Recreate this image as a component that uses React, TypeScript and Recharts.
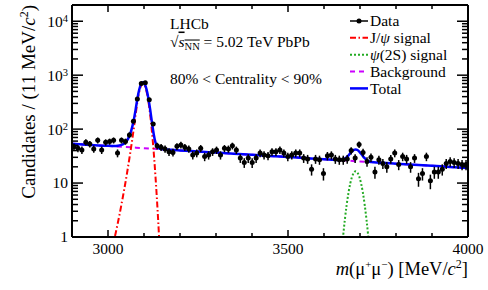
import React from 'react';
import { ComposedChart, Line, Scatter, XAxis, YAxis, ErrorBar } from 'recharts';

const FONT = '"Liberation Serif", "Times New Roman", Times, serif';

// Data histogram: 100 bins of 11 MeV/c2 between 2900 and 4000
const binLow = 2900;
const binWidth = 11;
const dataCounts = [
  47, 44, 41, 57, 53, 43, 62, 41, 57, 59,
  62, 36, 62, 59, 78, 140, 360, 700, 720, 350,
  125, 49, 46, 43, 38, 37, 48, 51, 46, 43,
  33, 36, 44, 31, 33, 38, 41, 33, 44, 43,
  49, 41, 29, 24, 29, 24, 29, 36, 33, 32,
  38, 38, 41, 36, 31, 33, 36, 36, 29, 28,
  18, 28, 27, 15, 32, 33, 28, 27, 27, 28,
  40, 29, 52, 37, 25, 30, 16, 27, 23, 20,
  28, 36, 22, 31, 28, 20, 29, 12, 15, 31,
  11, 16, 16, 18, 23, 25, 24, 23, 22, 22,
];

// Fit components
const bkgMass = [2900, 2950, 3000, 3050, 3100, 3150, 3200, 3250, 3300, 3350, 3400, 3450, 3500, 3550, 3600, 3650, 3700, 3750, 3800, 3850, 3900, 3950, 4000];
const bkgValues = [53.5, 51.0, 48.7, 46.5, 44.3, 42.3, 40.3, 38.5, 36.7, 35.0, 33.4, 31.9, 30.4, 29.0, 27.7, 26.4, 25.2, 24.0, 22.9, 21.9, 20.9, 19.9, 19.0];

const jpsiMass = [3012, 3017, 3022, 3027, 3032, 3037, 3042, 3047, 3052, 3057, 3062, 3067, 3072, 3077, 3082, 3087, 3092, 3097, 3102, 3107, 3112, 3117, 3122, 3127, 3132, 3137, 3142, 3147];
const jpsiValues = [0.62, 0.88, 1.24, 1.79, 2.6, 3.89, 5.87, 9.02, 14.1, 22.7, 37.0, 62.1, 106.9, 190.7, 334, 502, 641, 695, 641, 502, 334, 189, 91, 37.2, 12.9, 3.82, 0.96, 0.2];

const psi2sMass = [3643, 3648, 3653, 3658, 3663, 3668, 3673, 3678, 3683, 3688, 3693, 3698, 3703, 3708, 3713, 3718, 3723, 3728, 3733];
const psi2sValues = [0.2, 0.43, 1.01, 2.12, 3.96, 6.62, 9.87, 13.13, 15.58, 16.5, 15.58, 13.13, 9.87, 6.62, 3.96, 2.12, 1.01, 0.43, 0.2];

const totalMass = [2900, 2950, 3000, 3012, 3017, 3022, 3027, 3032, 3037, 3042, 3047, 3052, 3057, 3062, 3067, 3072, 3077, 3082, 3087, 3092, 3097, 3102, 3107, 3112, 3117, 3122, 3127, 3132, 3137, 3142, 3147, 3200, 3250, 3300, 3350, 3400, 3450, 3500, 3550, 3600, 3643, 3648, 3653, 3658, 3663, 3668, 3673, 3678, 3683, 3688, 3693, 3698, 3703, 3708, 3713, 3718, 3723, 3728, 3733, 3750, 3800, 3850, 3900, 3950, 4000];
const totalValues = [53.5, 51.0, 49.0, 48.8, 48.8, 48.9, 49.3, 49.9, 51.0, 52.8, 55.6, 60.5, 68.9, 83.0, 107.9, 152.5, 236, 379, 547, 686, 740, 685, 546, 378, 233, 134.5, 80.5, 56.0, 46.7, 43.7, 42.7, 40.3, 38.5, 36.7, 35.0, 33.4, 31.9, 30.4, 29.0, 27.7, 26.8, 26.9, 27.4, 28.3, 30.1, 32.6, 35.8, 38.9, 41.2, 42.0, 41.0, 38.4, 35.0, 31.6, 28.9, 26.9, 25.7, 24.9, 24.6, 24.0, 22.9, 21.9, 20.9, 19.9, 19.0];

// Axes
const xTicks = [3000, 3100, 3200, 3300, 3400, 3500, 3600, 3700, 3800, 3900, 4000];
const xLabeled = [3000, 3500, 4000];
const yDecades = [1, 10, 100, 1000, 10000];
const yExponents = [0, 1, 2, 3, 4];
const yTicks = yDecades.flatMap((d) => [1, 2, 3, 4, 5, 6, 7, 8, 9].map((k) => k * d));

const zip = (ms: number[], vs: number[]) => ms.map((m, i) => ({ m, v: vs[i] }));
const dataRows = dataCounts.map((n, i) => ({
  m: binLow + binWidth * (i + 0.5),
  v: n,
  ey: [Math.sqrt(n), Math.sqrt(n)],
  ex: binWidth / 2,
}));
const bkgRows = zip(bkgMass, bkgValues);
const jpsiRows = zip(jpsiMass, jpsiValues);
const psi2sRows = zip(psi2sMass, psi2sValues);
const totalRows = zip(totalMass, totalValues);

const C_JPSI = '#ff0000';
const C_PSI2S = '#22aa22';
const C_BKG = '#cc00ff';
const C_TOT = '#0000ff';
const D_JPSI = '6 2.5 1.5 2.5';
const D_PSI2S = '2 2';
const D_BKG = '5 4';

const isMajorY = (v: number) => yDecades.includes(v);

const BottomTick = (p: any) => {
  const v = p.payload.value;
  const major = xLabeled.includes(v);
  return (
    <g>
      <line x1={p.x} x2={p.x} y1={p.y} y2={p.y - (major ? 7 : 4)} stroke="#000" strokeWidth={1.5} />
      {major && (
        <text x={p.x} y={p.y + 16.5} textAnchor="middle" fontFamily={FONT} fontSize={15.5} fill="#000">{v}</text>
      )}
    </g>
  );
};

const TopTick = (p: any) => {
  const v = p.payload.value;
  const major = xLabeled.includes(v);
  return <line x1={p.x} x2={p.x} y1={p.y} y2={p.y + (major ? 7 : 4)} stroke="#000" strokeWidth={1.5} />;
};

const LeftTick = (p: any) => {
  const v = p.payload.value;
  const major = isMajorY(v);
  const idx = yDecades.indexOf(v);
  const exp = idx >= 0 ? yExponents[idx] : -1;
  return (
    <g>
      <line x1={p.x} x2={p.x + (major ? 11 : 6)} y1={p.y} y2={p.y} stroke="#000" strokeWidth={1.5} />
      {major && exp <= 1 && (
        <text x={p.x - 4} y={p.y + 5} textAnchor="end" fontFamily={FONT} fontSize={15.5} fill="#000">{v}</text>
      )}
      {major && exp > 1 && (
        <text x={p.x - 4} y={p.y + 6} textAnchor="end" fontFamily={FONT} fontSize={15.5} fill="#000">
          10<tspan dy={-5.5} fontSize={10.5}>{exp}</tspan>
        </text>
      )}
    </g>
  );
};

const RightTick = (p: any) => {
  const v = p.payload.value;
  const major = isMajorY(v);
  return <line x1={p.x} x2={p.x - (major ? 11 : 6)} y1={p.y} y2={p.y} stroke="#000" strokeWidth={1.5} />;
};

const axisLine = { stroke: '#000', strokeWidth: 2 };

const Dot = (p: any) => <circle cx={p.cx} cy={p.cy} r={2.5} fill="#000" />;

const legendItems = [
  { label: 'data', y: 21 },
  { label: 'jpsi', y: 37.8 },
  { label: 'psi2s', y: 54.7 },
  { label: 'bkg', y: 71.5 },
  { label: 'tot', y: 88.4 },
];

export default function App() {
  return (
    <div style={{ position: 'absolute', left: 0, top: 0, width: 488, height: 290, background: '#fff' }}>
      <ComposedChart width={488} height={290} margin={{ top: 0, right: 0, bottom: 0, left: 0 }}>
        <XAxis
          xAxisId={0}
          type="number"
          dataKey="m"
          domain={[2900, 4000]}
          allowDataOverflow
          ticks={xTicks}
          interval={0}
          height={53}
          tickSize={0}
          tickMargin={0}
          tickLine={false}
          axisLine={axisLine}
          tick={(p: any) => <BottomTick {...p} />}
        />
        <XAxis
          xAxisId="top"
          orientation="top"
          type="number"
          dataKey="m"
          domain={[2900, 4000]}
          allowDataOverflow
          ticks={xTicks}
          interval={0}
          height={5}
          tickSize={0}
          tickMargin={0}
          tickLine={false}
          axisLine={axisLine}
          tick={(p: any) => <TopTick {...p} />}
        />
        <YAxis
          yAxisId={0}
          type="number"
          scale="log"
          domain={[1, 20000]}
          allowDataOverflow
          ticks={yTicks}
          interval={0}
          width={72}
          tickSize={0}
          tickMargin={0}
          tickLine={false}
          axisLine={axisLine}
          tick={(p: any) => <LeftTick {...p} />}
        />
        <YAxis
          yAxisId="right"
          orientation="right"
          type="number"
          scale="log"
          domain={[1, 20000]}
          allowDataOverflow
          ticks={yTicks}
          interval={0}
          width={20}
          tickSize={0}
          tickMargin={0}
          tickLine={false}
          axisLine={axisLine}
          tick={(p: any) => <RightTick {...p} />}
        />
        <Line data={bkgRows} dataKey="v" type="monotone" stroke={C_BKG} strokeWidth={2} strokeDasharray={D_BKG} dot={false} isAnimationActive={false} />
        <Line data={jpsiRows} dataKey="v" type="monotone" stroke={C_JPSI} strokeWidth={2} strokeDasharray={D_JPSI} dot={false} isAnimationActive={false} />
        <Line data={psi2sRows} dataKey="v" type="monotone" stroke={C_PSI2S} strokeWidth={2} strokeDasharray={D_PSI2S} dot={false} isAnimationActive={false} />
        <Line data={totalRows} dataKey="v" type="monotone" stroke={C_TOT} strokeWidth={2.5} dot={false} isAnimationActive={false} />
        <Scatter data={dataRows} dataKey="v" shape={(p: any) => <Dot {...p} />} isAnimationActive={false}>
          <ErrorBar dataKey="ey" direction="y" width={0} stroke="#000" strokeWidth={1.5} />
          <ErrorBar dataKey="ex" direction="x" width={0} stroke="#000" strokeWidth={1.5} />
        </Scatter>
      </ComposedChart>
      <svg width={488} height={290} style={{ position: 'absolute', left: 0, top: 0, pointerEvents: 'none' }} fontFamily={FONT} fill="#000">
        {/* axis titles */}
        <text x={468} y={275} textAnchor="end" fontSize={18.5}>
          <tspan fontStyle="italic">m</tspan>(μ<tspan dy={-7} fontSize={11}>+</tspan><tspan dy={7}>μ</tspan><tspan dy={-7} fontSize={11}>−</tspan><tspan dy={7}>) [MeV/</tspan><tspan fontStyle="italic">c</tspan><tspan dy={-7} fontSize={12}>2</tspan><tspan dy={7}>]</tspan>
        </text>
        <text transform="translate(35,5) rotate(-90)" textAnchor="end" fontSize={19}>
          Candidates / (11 MeV/<tspan fontStyle="italic">c</tspan><tspan dy={-7} fontSize={12}>2</tspan><tspan dy={7}>)</tspan>
        </text>
        {/* annotations */}
        <text x={170} y={28.5} fontSize={15.5}>LHCb</text>
        <text x={170} y={46.5} fontSize={15.5}>
          √<tspan fontStyle="italic" style={{ textDecoration: 'overline' }}>s</tspan><tspan fontSize={10.5} dy={3} style={{ textDecoration: 'overline' }}>NN</tspan><tspan dy={-3}> = 5.02 TeV PbPb</tspan>
        </text>
        <text x={170} y={84} fontSize={15.5}>80% &lt; Centrality &lt; 90%</text>
        {/* legend */}
        <g>
          <line x1={350} x2={368} y1={legendItems[0].y} y2={legendItems[0].y} stroke="#000" strokeWidth={1.5} />
          <circle cx={359} cy={legendItems[0].y} r={2.5} fill="#000" />
          <text x={370} y={legendItems[0].y + 5.3} fontSize={15.5}>Data</text>

          <line x1={350} x2={368} y1={legendItems[1].y} y2={legendItems[1].y} stroke={C_JPSI} strokeWidth={2} strokeDasharray={D_JPSI} />
          <text x={370} y={legendItems[1].y + 5.3} fontSize={15.5}>J/<tspan fontStyle="italic">ψ</tspan> signal</text>

          <line x1={350} x2={368} y1={legendItems[2].y} y2={legendItems[2].y} stroke={C_PSI2S} strokeWidth={2} strokeDasharray={D_PSI2S} />
          <text x={370} y={legendItems[2].y + 5.3} fontSize={15.5}><tspan fontStyle="italic">ψ</tspan>(2S) signal</text>

          <line x1={350} x2={368} y1={legendItems[3].y} y2={legendItems[3].y} stroke={C_BKG} strokeWidth={2} strokeDasharray={D_BKG} />
          <text x={370} y={legendItems[3].y + 5.3} fontSize={15.5}>Background</text>

          <line x1={350} x2={368} y1={legendItems[4].y} y2={legendItems[4].y} stroke={C_TOT} strokeWidth={2.5} />
          <text x={370} y={legendItems[4].y + 5.3} fontSize={15.5}>Total</text>
        </g>
      </svg>
    </div>
  );
}
